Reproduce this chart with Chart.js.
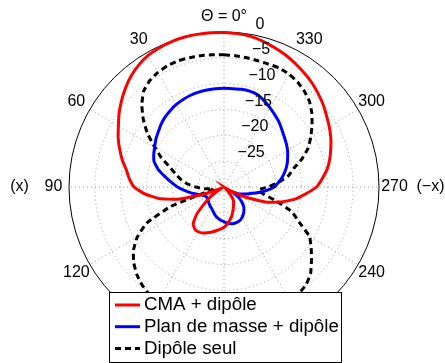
<!DOCTYPE html>
<html>
<head>
<meta charset="utf-8">
<script src="https://cdn.jsdelivr.net/npm/chart.js@4.4.1/dist/chart.umd.min.js"></script>
<style>
  html, body { margin: 0; padding: 0; background: #fff; }
  #wrap { width: 445px; height: 363px; }
</style>
</head>
<body>
<div id="wrap"><canvas id="polar" width="445" height="363"></canvas></div>
<script>
// Angles in degrees, counter-clockwise from the top (Theta = 0 deg), 5 deg step
const angles = [0, 5, 10, 15, 20, 25, 30, 35, 40, 45, 50, 55, 60, 65, 70, 75, 80, 85,
  90, 95, 100, 105, 110, 115, 120, 125, 130, 135, 140, 145, 150, 155, 160, 165, 170, 175,
  180, 185, 190, 195, 200, 205, 210, 215, 220, 225, 230, 235, 240, 245, 250, 255, 260, 265,
  270, 275, 280, 285, 290, 295, 300, 305, 310, 315, 320, 325, 330, 335, 340, 345, 350, 355];

// Gain in dB
const cmaDipole = [-0.1, -0.05, 0, 0, -0.1, -0.3, -0.6, -1.2, -2.0, -3.0, -4.1, -5.2, -6.4, -7.4, -8.5, -9.6, -10.8, -11.6,
  -12.6, -14.6, -17.2, -20.8, -26.5, -29.5, -29, -27, -25.2, -22.5, -20.7, -20.1, -20.0, -20.2, -20.6, -21.0, -21.4, -21.8,
  -22.2, -22.8, -23.5, -24.2, -25.0, -25.7, -26.3, -26.8, -28, -29.5, -30, -30, -28.5, -25.3, -21.5, -18.7, -16.2, -14.2,
  -12.1, -10.9, -9.7, -8.8, -8.0, -7.2, -6.5, -5.8, -5.0, -4.3, -3.6, -3.0, -2.4, -1.8, -1.3, -0.8, -0.4, -0.2];

const planMasseDipole = [-10.9, -10.9, -10.95, -11.0, -11.1, -11.3, -11.55, -11.9, -12.3, -12.8, -13.4, -13.9, -14.5, -15.0, -15.6, -16.8, -18.4, -19.8,
  -21.0, -22.3, -23.5, -24.6, -25.4, -25.9, -26.1, -26.1, -26.0, -25.8, -25.6, -25.4, -25.2, -24.9, -24.5, -24.1, -23.8, -23.5,
  -23.3, -23.0, -22.8, -22.7, -22.7, -22.8, -23.1, -23.5, -24.0, -24.6, -25.5, -26.6, -28.0, -26.8, -26.0, -25.0, -23.5, -21.8,
  -20.3, -19.4, -18.5, -17.7, -17.0, -16.4, -15.8, -15.3, -14.8, -14.2, -13.5, -12.9, -12.25, -11.6, -11.0, -10.8, -10.8, -10.9];

const dipoleSeul = [-4.4, -4.3, -4.2, -4.1, -4.0, -4.1, -4.4, -4.9, -5.8, -7.5, -9.6, -11.9, -14.5, -16.6, -18.9, -20.3, -21.5, -22.8,
  -24.5, -26.2, -28.0, -27.0, -19.0, -13.5, -10.6, -8.6, -7.2, -6.1, -5.3, -4.7, -4.3, -4.1, -4.0, -4.0, -4.0, -4.0,
  -4.1, -4.2, -4.3, -4.4, -4.5, -4.6, -4.7, -4.8, -5.3, -6.3, -7.9, -9.4, -10.9, -14.0, -16.0, -19.5, -22.3, -23.3,
  -21.5, -19.4, -17.3, -16.0, -13.9, -12.0, -10.6, -9.2, -7.8, -6.6, -5.8, -5.2, -4.8, -4.6, -4.7, -4.7, -4.6, -4.5];

const seriesNames = ['CMA + dipôle', 'Plan de masse + dipôle', 'Dipôle seul'];
const radialTicks = [0, -5, -10, -15, -20, -25];
const angleTicks = [0, 30, 60, 90, 120, 150, 180, 210, 240, 270, 300, 330];
const angleTickText = ['\u0398 = 0\u00b0', '30', '60', '90', '120', '150', '180', '210', '240', '270', '300', '330'];

const FONT = '"Liberation Sans", Arial, Helvetica, sans-serif';

// radar goes clockwise, the figure goes counter-clockwise: reorder
const order = angles.map((_, i) => (angles.length - i) % angles.length);
const pick = arr => order.map(k => arr[k]);
const idxOfAngle = a => (angles.length - angles.indexOf(a)) % angles.length;

const polarLabels = {
    id: 'polarLabels',
    afterDraw(chart) {
        const ctx = chart.ctx;
        const scale = chart.scales.r;
        const R = scale.drawingArea;
        ctx.save();
        ctx.fillStyle = '#000';
        ctx.font = '16px ' + FONT;
        ctx.textAlign = 'center';
        ctx.textBaseline = 'middle';

        // angle labels at 1.1 * outer radius
        angleTicks.forEach((a, k) => {
            const p = scale.getPointPosition(idxOfAngle(a), 1.1 * R);
            ctx.fillText(angleTickText[k], p.x, p.y);
            if (a === 90) ctx.fillText('(x)', p.x - 34, p.y);
            if (a === 270) ctx.fillText('(\u2212x)', p.x + 36, p.y);
        });

        // radial tick labels along a line 8 deg right of the top
        ctx.textAlign = 'left';
        const s8 = Math.sin(8 * Math.PI / 180), c8 = Math.cos(8 * Math.PI / 180);
        radialTicks.forEach(v => {
            const r = scale.getDistanceFromCenterForValue(v);
            const txt = v === 0 ? '0' : '\u2212' + Math.abs(v);
            ctx.fillText(txt, scale.xCenter + r * s8 + 10, scale.yCenter - r * c8 - 9);
        });

        // legend box
        const bx = 109, by = 292, bw = 232, bh = 70;
        ctx.fillStyle = '#fff';
        ctx.fillRect(bx, by, bw, bh);
        ctx.strokeStyle = '#000';
        ctx.lineWidth = 1;
        ctx.strokeRect(bx + 0.5, by + 0.5, bw, bh);
        ctx.font = '18.7px ' + FONT;
        ctx.textBaseline = 'middle';
        chart.data.datasets.forEach((ds, i) => {
            const y = by + 13 + i * 21.7;
            ctx.strokeStyle = ds.borderColor;
            ctx.lineWidth = 3;
            ctx.setLineDash(ds.borderDash || []);
            ctx.beginPath();
            ctx.moveTo(115, y);
            ctx.lineTo(140, y);
            ctx.stroke();
            ctx.setLineDash([]);
            ctx.fillStyle = '#000';
            ctx.fillText(ds.label, 144, y);
        });
        ctx.restore();
    }
};

new Chart(document.getElementById('polar'), {
    type: 'radar',
    data: {
        labels: pick(angles),
        datasets: [
            { label: seriesNames[0], data: pick(cmaDipole), borderColor: '#ff0000' },
            { label: seriesNames[1], data: pick(planMasseDipole), borderColor: '#0000ff' },
            { label: seriesNames[2], data: pick(dipoleSeul), borderColor: '#000000', borderDash: [6, 4] }
        ]
    },
    options: {
        responsive: false,
        animation: false,
        layout: { padding: { left: 69, right: 65, top: 32, bottom: 20 } },
        elements: {
            line: { borderWidth: 3, fill: false, tension: 0.12 },
            point: { radius: 0, hoverRadius: 0 }
        },
        plugins: { legend: { display: false }, tooltip: { enabled: false } },
        scales: {
            r: {
                min: -30,
                max: 0,
                startAngle: 0,
                ticks: { display: false, stepSize: 5 },
                pointLabels: { display: false },
                grid: {
                    circular: true,
                    color: c => c.tick && c.tick.value === 0 ? '#000' : '#9a9a9a',
                    lineWidth: 1
                },
                border: { dash: c => c.tick && c.tick.value === 0 ? [] : [1, 3] },
                angleLines: {
                    color: c => c.index % 6 === 0 ? '#9a9a9a' : 'rgba(0,0,0,0)',
                    lineWidth: 1,
                    borderDash: [1, 3]
                }
            }
        }
    },
    plugins: [polarLabels]
});
</script>
</body>
</html>
